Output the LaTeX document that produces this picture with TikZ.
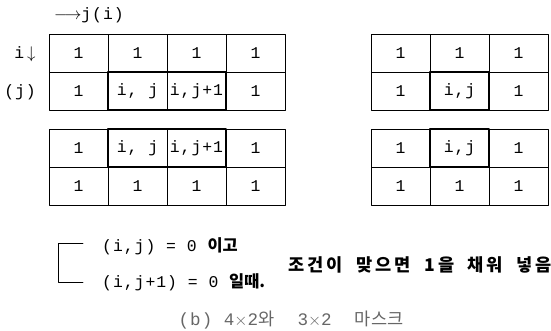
\documentclass[tikz,border=0pt]{standalone}
\usepackage{fontspec}
\newfontfamily\kr{Noto Sans CJK KR}
\newfontfamily\krspaced[LetterSpace=18]{Noto Sans CJK KR}
\newfontfamily\cellfont[LetterSpace=6]{Liberation Mono}
\usetikzlibrary{positioning}

\begin{document}
\begin{tikzpicture}[x=0.03cm,y=-0.03cm,line cap=round,line join=round,
  cell/.style={draw,line width=0.6pt,minimum width=1.77cm,minimum height=1.14cm,
    inner sep=0pt,outer sep=0pt,font=\cellfont\fontsize{14}{16}\selectfont},
  mask/.style={line width=1.8pt},
  lbl/.style={inner sep=0pt,font=\cellfont\fontsize{14}{16}\selectfont}]
  \useasboundingbox (0,0) rectangle (551,331);
  % 4x2 mask, row 2
  \node[cell] (a11) at (78.5,53) {1};
  \node[cell] (a12) at (137.5,53) {1};
  \node[cell] (a13) at (196.5,53) {1};
  \node[cell] (a14) at (255.5,53) {1};
  \node[cell] (a21) at (78.5,91) {1};
  \node[cell] (a22) at (137.5,91) {i, j};
  \node[cell] (a23) at (196.5,91) {i,j+1};
  \node[cell] (a24) at (255.5,91) {1};
  \draw[mask] (a22.north west) rectangle (a23.south east);
  % 4x2 mask, row 1
  \node[cell] (b11) at (78.5,148) {1};
  \node[cell] (b12) at (137.5,148) {i, j};
  \node[cell] (b13) at (196.5,148) {i,j+1};
  \node[cell] (b14) at (255.5,148) {1};
  \node[cell] (b21) at (78.5,186) {1};
  \node[cell] (b22) at (137.5,186) {1};
  \node[cell] (b23) at (196.5,186) {1};
  \node[cell] (b24) at (255.5,186) {1};
  \draw[mask] (b12.north west) rectangle (b13.south east);
  % 3x2 masks
  \node[cell] (c11) at (400.5,53) {1};
  \node[cell] (c12) at (459.5,53) {1};
  \node[cell] (c13) at (518.5,53) {1};
  \node[cell] (c21) at (400.5,91) {1};
  \node[cell] (c22) at (459.5,91) {i,j};
  \node[cell] (c23) at (518.5,91) {1};
  \draw[mask] (c22.north west) rectangle (c22.south east);
  \node[cell] (d11) at (400.5,148) {1};
  \node[cell] (d12) at (459.5,148) {i,j};
  \node[cell] (d13) at (518.5,148) {1};
  \node[cell] (d21) at (400.5,186) {1};
  \node[cell] (d22) at (459.5,186) {1};
  \node[cell] (d23) at (518.5,186) {1};
  \draw[mask] (d12.north west) rectangle (d12.south east);
  % axis labels
  \node[lbl,anchor=west] (dirj) at (54,15) {$\longrightarrow$j(i)};
  \node[lbl] (diri) at (25,54) {i\,$\downarrow$};
  \node[lbl] (dirj2) at (20,92) {(j)};
  % condition
  \coordinate (brt) at (83,243);
  \coordinate (brb) at (83,282);
  \draw[line width=0.7pt] (brt) -- (58,243) -- (58,282) -- (brb);
  \node[lbl,anchor=west] (cond1) at (102,246) {(i,j) = 0 {\kr\bfseries 이고}};
  \node[lbl,anchor=west] (cond2) at (102,282) {(i,j+1) = 0 {\kr\bfseries 일때.}};
  \node[lbl,anchor=west,font=\krspaced\bfseries\fontsize{15}{17}\selectfont] (fill) at (288,265)
    {조건이\hspace{0.75em}맞으면\hspace{0.75em}1을\hspace{0.75em}채워\hspace{0.75em}넣음};
  \node[lbl,text=black!60,font=\cellfont\fontsize{15}{17}\selectfont] (cap) at (291,320)
    {(b) 4$\times$2{\kr 와}\ \ 3$\times$2\ \ {\kr 마스크}};
\end{tikzpicture}
\end{document}
